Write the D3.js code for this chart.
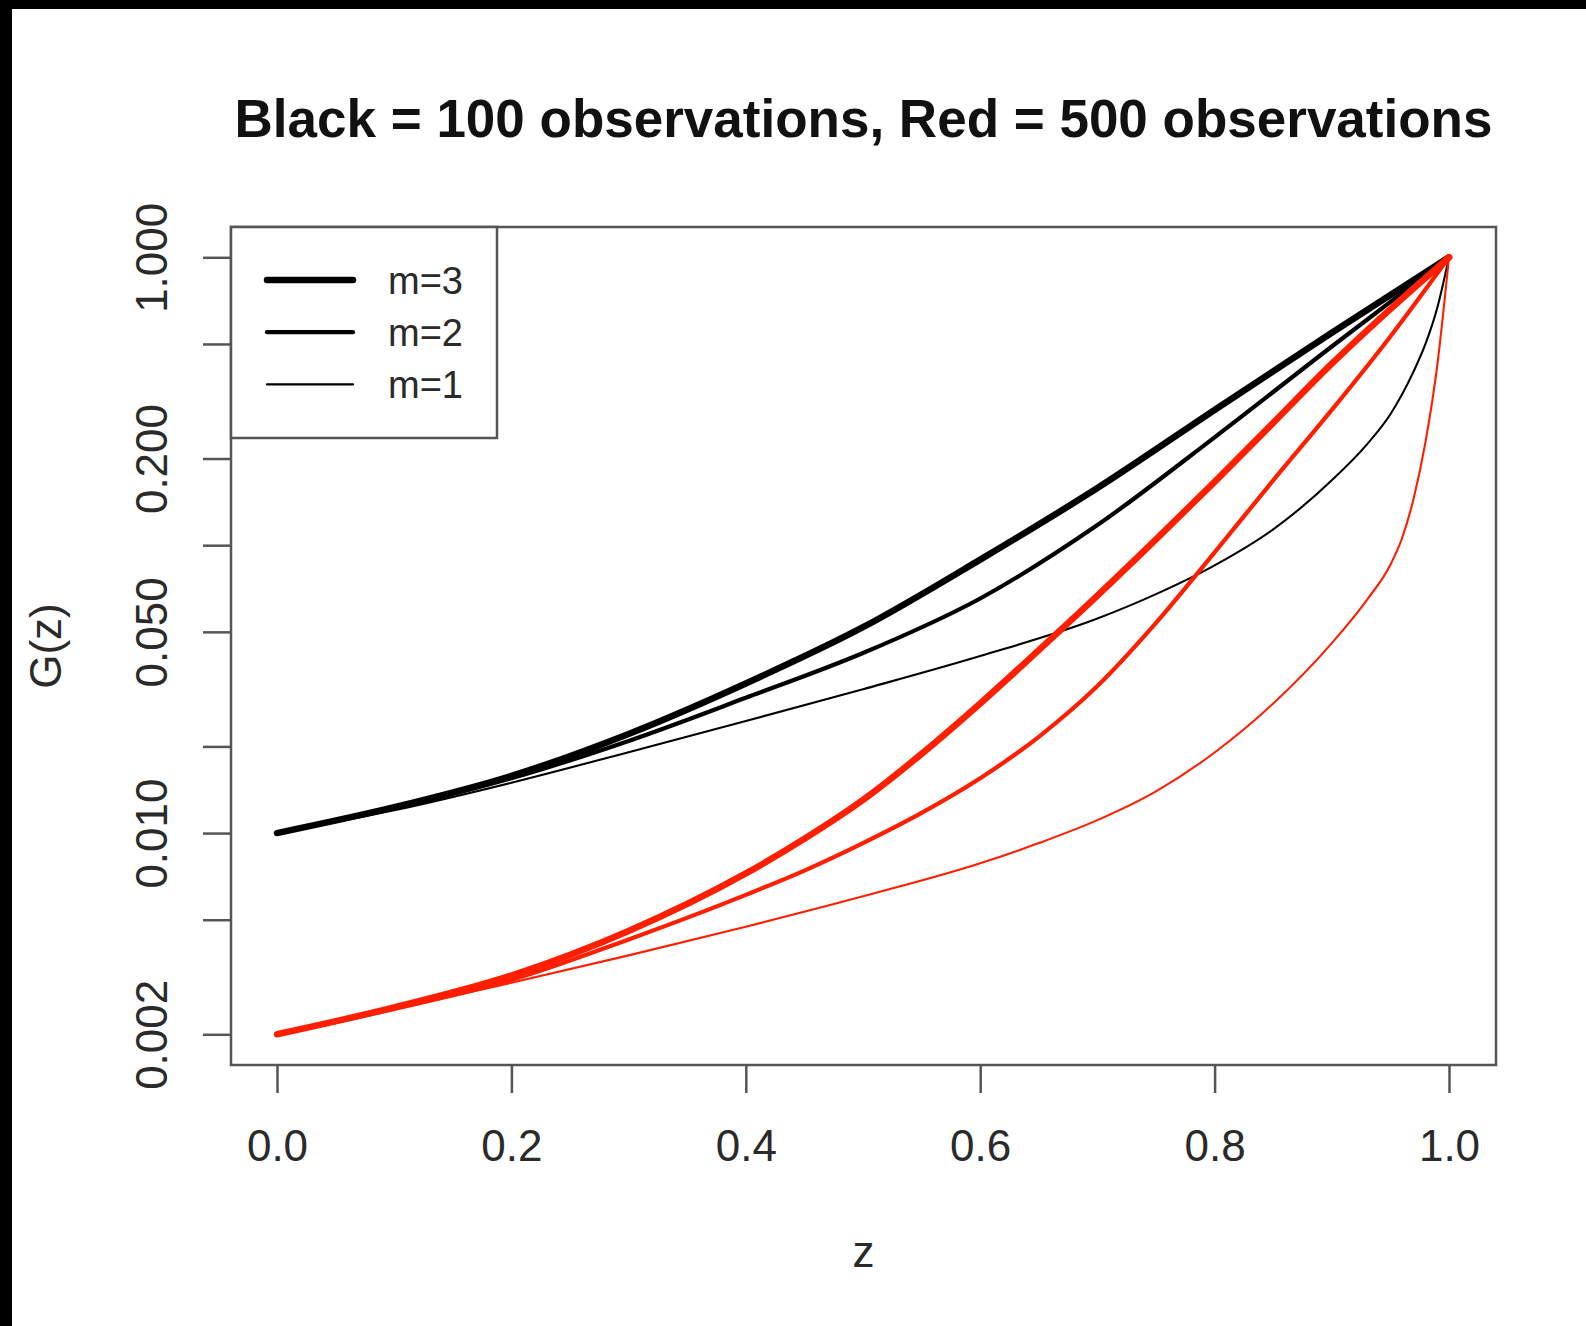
<!DOCTYPE html>
<html>
<head>
<meta charset="utf-8">
<script src="https://cdn.jsdelivr.net/npm/d3@7"></script>
<style>
  html, body { margin: 0; padding: 0; background: #fff; }
  svg { display: block; }
  text { font-family: "Liberation Sans", Arial, Helvetica, sans-serif; }
</style>
</head>
<body>
<svg id="chart" width="1586" height="1326"></svg>
<script>
// values: [z, G(z)]
var black_m3 = [[0,0.0100],[0.1,0.0123],[0.2,0.0158],[0.3,0.0221],[0.4,0.0331],[0.5,0.0519],[0.6,0.0891],[0.7,0.158],[0.8,0.295],[0.9,0.547],[1,1]];
var black_m2 = [[0,0.0100],[0.1,0.0122],[0.2,0.0155],[0.3,0.0209],[0.4,0.0295],[0.5,0.0422],[0.6,0.0653],[0.7,0.1175],[0.8,0.237],[0.9,0.490],[1,1]];
var black_m1 = [[0,0.0100],[0.1,0.0120],[0.2,0.01496],[0.3,0.0191],[0.4,0.0245],[0.5,0.0316],[0.6,0.0412],[0.7,0.0556],[0.75,0.0676],[0.8,0.0851],[0.85,0.1135],[0.9,0.168],[0.93,0.224],[0.95,0.285],[0.97,0.403],[0.98,0.501],[0.99,0.668],[1,1]];
var red_m3 = [[0,0.0020],[0.1,0.00248],[0.2,0.00320],[0.3,0.00457],[0.4,0.00724],[0.45,0.00955],[0.5,0.01303],[0.55,0.01884],[0.6,0.0282],[0.65,0.0432],[0.7,0.0668],[0.75,0.1047],[0.8,0.166],[0.85,0.266],[0.9,0.427],[0.95,0.661],[1,1]];
var red_m2 = [[0,0.0020],[0.1,0.00245],[0.2,0.00309],[0.3,0.00427],[0.4,0.0061],[0.45,0.00741],[0.5,0.00923],[0.55,0.01175],[0.6,0.0155],[0.65,0.0216],[0.7,0.0324],[0.75,0.0537],[0.8,0.0944],[0.85,0.168],[0.9,0.295],[0.95,0.531],[1,1]];
var red_m1 = [[0,0.0020],[0.1,0.00245],[0.2,0.00302],[0.3,0.00376],[0.4,0.00473],[0.5,0.00603],[0.6,0.00785],[0.65,0.00923],[0.7,0.01109],[0.75,0.01396],[0.8,0.01905],[0.85,0.02818],[0.9,0.0457],[0.93,0.0646],[0.95,0.0855],[0.96,0.1059],[0.97,0.1462],[0.98,0.2291],[0.99,0.4217],[1,1]];

var xTicks = [0, 0.2, 0.4, 0.6, 0.8, 1.0];
var yTicks = [0.002, 0.005, 0.01, 0.02, 0.05, 0.1, 0.2, 0.5, 1];
var yLabels = ["0.002", "", "0.010", "", "0.050", "", "0.200", "", "1.000"];
var legendLabels = ["m=3", "m=2", "m=1"];
var lineWidths = [6.5, 4.2, 2.1];

var svg = d3.select("#chart");

// black frame edges of the screenshot
svg.append("rect").attr("x", 0).attr("y", 0).attr("width", 1586).attr("height", 9).attr("fill", "#000");
svg.append("rect").attr("x", 0).attr("y", 0).attr("width", 12).attr("height", 1326).attr("fill", "#000");

var box = {left: 231, top: 227, right: 1496, bottom: 1065};

var x = d3.scaleLinear().domain([0, 1]).range([277, 1449]);
var y = d3.scaleLog().domain([0.002, 1]).range([1034.3, 257.3]);

var axisColor = "#555";
var textColor = "#2a2a2a";

// curves
var line = d3.line()
    .x(function(d){ return x(d[0]); })
    .y(function(d){ return y(d[1]); })
    .curve(d3.curveMonotoneX);

var series = [
  {data: black_m3, color: "#000", w: lineWidths[0]},
  {data: black_m2, color: "#000", w: lineWidths[1]},
  {data: black_m1, color: "#000", w: lineWidths[2]},
  {data: red_m3, color: "#ff1f00", w: lineWidths[0]},
  {data: red_m2, color: "#ff1f00", w: lineWidths[1]},
  {data: red_m1, color: "#ff1f00", w: lineWidths[2]}
];

svg.selectAll("path.curve").data(series).enter().append("path")
    .attr("class", "curve")
    .attr("d", function(s){ return line(s.data); })
    .attr("fill", "none")
    .attr("stroke", function(s){ return s.color; })
    .attr("stroke-width", function(s){ return s.w; })
    .attr("stroke-linecap", "round")
    .attr("stroke-linejoin", "round");

// x axis
var gx = svg.append("g").attr("transform", "translate(0," + box.bottom + ")")
    .call(d3.axisBottom(x).tickValues(xTicks).tickSize(28).tickFormat(d3.format(".1f")));
gx.select(".domain").remove();
gx.selectAll(".tick line").attr("stroke", axisColor).attr("stroke-width", 2.5);
gx.selectAll(".tick text")
    .attr("y", 96).attr("dy", 0)
    .attr("fill", textColor)
    .style("font-size", "44px");

// y axis
var gy = svg.append("g").attr("transform", "translate(" + box.left + ",0)")
    .call(d3.axisLeft(y).tickValues(yTicks).tickSize(28).tickFormat(function(d, i){ return yLabels[i]; }));
gy.select(".domain").remove();
gy.selectAll(".tick line").attr("stroke", axisColor).attr("stroke-width", 2.5);
gy.selectAll(".tick text")
    .attr("x", 0).attr("y", 0).attr("dy", 0)
    .attr("transform", "translate(-64,0) rotate(-90)")
    .attr("text-anchor", "middle")
    .attr("fill", textColor)
    .style("font-size", "44px");

// plot box
svg.append("rect")
    .attr("x", box.left).attr("y", box.top)
    .attr("width", box.right - box.left).attr("height", box.bottom - box.top)
    .attr("fill", "none").attr("stroke", axisColor).attr("stroke-width", 2.5);

// titles
svg.append("text")
    .attr("x", (box.left + box.right) / 2).attr("y", 137)
    .attr("text-anchor", "middle")
    .attr("font-weight", "bold")
    .attr("fill", "#111")
    .style("font-size", "53px")
    .text("Black = 100 observations, Red = 500 observations");

svg.append("text")
    .attr("x", (box.left + box.right) / 2).attr("y", 1267)
    .attr("text-anchor", "middle")
    .attr("fill", textColor)
    .style("font-size", "44px")
    .text("z");

svg.append("text")
    .attr("transform", "translate(61," + ((box.top + box.bottom) / 2) + ") rotate(-90)")
    .attr("text-anchor", "middle")
    .attr("fill", textColor)
    .style("font-size", "44px")
    .text("G(z)");

// legend
var lg = svg.append("g");
lg.append("rect")
    .attr("x", box.left).attr("y", box.top)
    .attr("width", 266).attr("height", 211)
    .attr("fill", "#fff").attr("stroke", axisColor).attr("stroke-width", 2.5);

var rows = lg.selectAll("g.row").data(legendLabels).enter().append("g")
    .attr("class", "row")
    .attr("transform", function(d, i){ return "translate(0," + (280 + i * 52.2) + ")"; });
rows.append("line")
    .attr("x1", 267).attr("x2", 353).attr("y1", 0).attr("y2", 0)
    .attr("stroke", "#000")
    .attr("stroke-width", function(d, i){ return lineWidths[i]; })
    .attr("stroke-linecap", "round");
rows.append("text")
    .attr("x", 388).attr("y", 14)
    .attr("fill", textColor)
    .style("font-size", "38px")
    .text(function(d){ return d; });
</script>
</body>
</html>
